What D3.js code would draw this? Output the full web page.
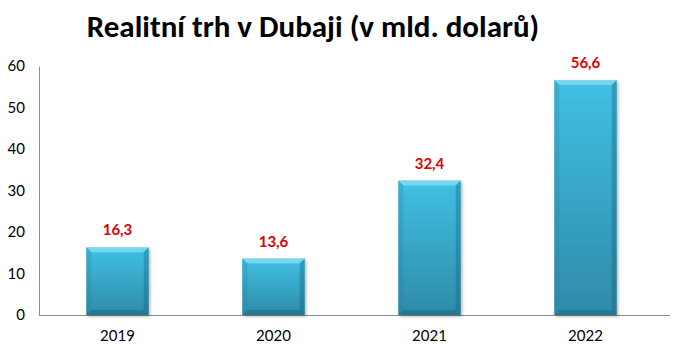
<!DOCTYPE html>
<html><head><meta charset="utf-8">
<script src="https://cdn.jsdelivr.net/npm/d3@7"></script>
<style>body{margin:0;background:#fff;} svg{display:block;}</style>
</head><body>
<script>
const categories = ["2019","2020","2021","2022"];
const values = [16.3, 13.6, 32.4, 56.6];
const valueLabels = ["16,3","13,6","32,4","56,6"];
const yTicks = [0,10,20,30,40,50,60];
const title = "Realitní trh v Dubaji (v mld. dolarů)";

const W=674,H=351;
const svg=d3.select("body").append("svg").attr("width",W).attr("height",H);
const font="Lato, 'Open Sans', sans-serif";
const defs=svg.append("defs");
const g1=defs.append("linearGradient").attr("id","barg").attr("x1",0).attr("y1",0).attr("x2",0).attr("y2",1);
g1.append("stop").attr("offset","0%").attr("stop-color","#40c0e5");
g1.append("stop").attr("offset","100%").attr("stop-color","#2e8ba7");
const f=defs.append("filter").attr("id","sh").attr("x","-20%").attr("y","-20%").attr("width","150%").attr("height","150%");
f.append("feDropShadow").attr("dx",1.5).attr("dy",1.5).attr("stdDeviation",1.5).attr("flood-color","#000").attr("flood-opacity",0.3);

const x=d3.scaleBand().domain(categories).range([39.5,663.5]).paddingInner(0.6).paddingOuter(0.3);
const y=d3.scaleLinear().domain([0,60]).range([315,66]);

svg.append("text").attr("x",313).attr("y",37).attr("text-anchor","middle")
 .attr("font-family","Carlito, Lato, 'Open Sans', sans-serif").attr("font-weight","bold").attr("font-size",31).attr("fill","#000").text(title);

// y axis
const ya=svg.append("g").attr("transform","translate(39,0)").call(d3.axisLeft(y).tickValues(yTicks).tickSize(0).tickPadding(14));
ya.select(".domain").attr("stroke","#8c8c8c");
ya.selectAll("text").attr("font-family",font).attr("font-size",15).attr("fill","#000");
// x axis
const xa=svg.append("g").attr("transform","translate(0,315)").call(d3.axisBottom(x).tickSize(0).tickPadding(15));
xa.select(".domain").attr("d","M39,0.5H670").attr("stroke","#8c8c8c");
xa.selectAll("text").attr("font-family",font).attr("font-size",15).attr("fill","#000");

const bw=x.bandwidth(), b=5;
const bars=svg.append("g").selectAll("g").data(categories).join("g");
bars.each(function(c,i){
  const gg=d3.select(this);
  const x0=x(c), x1=x0+bw, y0=y(values[i]), y1=y(0);
  gg.append("rect").attr("x",x0).attr("y",y0).attr("width",bw).attr("height",y1-y0).attr("fill","url(#barg)").attr("filter","url(#sh)");
  gg.append("path").attr("d",`M${x0},${y0}L${x1},${y0}L${x1-b},${y0+b}L${x0+b},${y0+b}Z`).attr("fill","#9ee6f7").attr("opacity",0.6);
  gg.append("path").attr("d",`M${x0},${y0}L${x0+b},${y0+b}L${x0+b},${y1-b}L${x0},${y1}Z`).attr("fill","#1f7f9c").attr("opacity",0.25);
  gg.append("path").attr("d",`M${x1},${y0}L${x1-b},${y0+b}L${x1-b},${y1-b}L${x1},${y1}Z`).attr("fill","#135f76").attr("opacity",0.35);
  gg.append("path").attr("d",`M${x0},${y1}L${x0+b},${y1-b}L${x1-b},${y1-b}L${x1},${y1}Z`).attr("fill","#135f76").attr("opacity",0.4);
  gg.append("text").attr("x",x0+bw/2).attr("y",y0-12).attr("text-anchor","middle")
   .attr("font-family",font).attr("font-weight","bold").attr("font-size",15).attr("fill","#e00000").text(valueLabels[i]);
});
</script>
</body></html>
